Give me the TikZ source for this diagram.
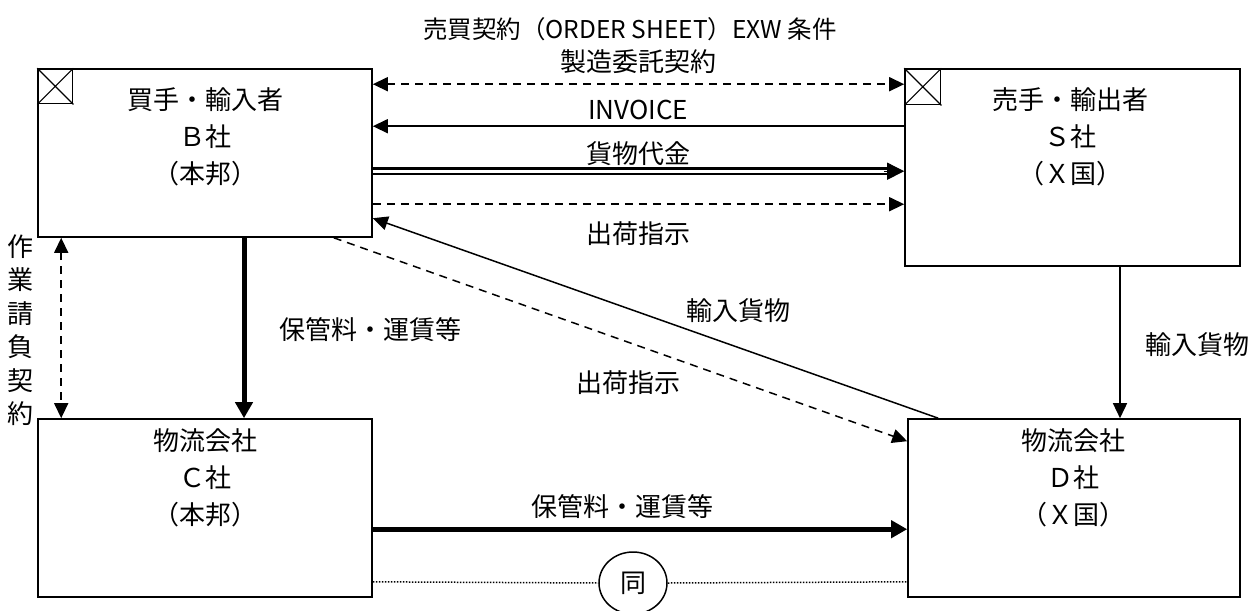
\documentclass[tikz,border=0pt]{standalone}
\usepackage{fontspec}
\setmainfont{Noto Sans CJK JP}
\usetikzlibrary{arrows.meta,shapes.geometric}
\tikzset{
  box/.style={draw, line width=1.6pt, rectangle, inner sep=0pt},
  lbl/.style={font=\fontsize{26}{37}\selectfont, inner sep=0pt, align=center},
  tip/.style={-{Triangle[length=15pt,width=14pt]}},
  bigtip/.style={-{Triangle[length=16pt,width=17pt]}},
  bitip/.style={{Triangle[length=15pt,width=14pt]}-{Triangle[length=15pt,width=14pt]}},
  thin/.style={line width=1.5pt},
  thick4/.style={line width=5pt},
  dsh/.style={dash pattern=on 8pt off 6pt},
  dots/.style={line width=1.5pt, dash pattern=on 1.5pt off 1.5pt},
}
\begin{document}
\begin{tikzpicture}[x=1pt,y=-1pt]
\useasboundingbox (0,0) rectangle (1252,610);
\fill[white] (0,0) rectangle (1252,610);
% boxes
\node[box, minimum width=334pt, minimum height=168pt] (B) at (205,153) {};
\node[box, minimum width=335pt, minimum height=197pt] (S) at (1072.5,167.5) {};
\node[box, minimum width=334pt, minimum height=178pt] (C) at (205,508) {};
\node[box, minimum width=332pt, minimum height=178pt] (D) at (1074,508) {};
% crossed squares
\node[draw, line width=1.2pt, minimum width=35pt, minimum height=35pt, anchor=north west, inner sep=0pt] (Bx) at (B.north west) {};
\draw[line width=1.2pt] (Bx.north west) -- (Bx.south east) (Bx.north east) -- (Bx.south west);
\node[draw, line width=1.2pt, minimum width=36pt, minimum height=36pt, anchor=north west, inner sep=0pt] (Sx) at (S.north west) {};
\draw[line width=1.2pt] (Sx.north west) -- (Sx.south east) (Sx.north east) -- (Sx.south west);
% box texts
\node[lbl] (Bt) at (205,137) {買手・輸入者\\Ｂ社\\（本邦）};
\node[lbl] (St) at (1070,137) {売手・輸出者\\Ｓ社\\（Ｘ国）};
\node[lbl] (Ct) at (205,478) {物流会社\\Ｃ社\\（本邦）};
\node[lbl] (Dt) at (1073,478) {物流会社\\Ｄ社\\（Ｘ国）};
% top arrows
\draw[thin, dsh, bitip] ([yshift=-16pt]B.north east) -- ([yshift=-16pt]S.north west);
\draw[thin, tip] ([yshift=-58pt]S.north west) -- ([yshift=-58pt]B.north east);
\draw[line width=2.2pt, double, double distance=3.2pt, shorten >=15pt] ([yshift=-103pt]B.north east) -- ([yshift=-103pt]S.north west);
\draw[line width=1pt, -{Triangle[length=17pt,width=17pt]}] ([yshift=-103pt,xshift=-20pt]S.north west) -- ([yshift=-103pt]S.north west);
\draw[thin, dsh, tip] ([yshift=-136pt]B.north east) -- ([yshift=-136pt]S.north west);
\node[lbl, font=\fontsize{24.5}{30}\selectfont] (L1) at (630,29) {売買契約（ORDER SHEET）EXW 条件};
\node[lbl] (L2) at (638,62) {製造委託契約};
\node[lbl] (L3) at (638,110) {INVOICE};
\node[lbl] (L4) at (638,154) {貨物代金};
\node[lbl] (L5) at (638,234) {出荷指示};
% verticals
\draw[thick4, bigtip] ([xshift=39pt]B.south) -- ([xshift=39pt]C.north);
\node[lbl] (L6) at (370,330) {保管料・運賃等};
\draw[thin, dsh, bitip] ([xshift=24pt]B.south west) -- ([xshift=24pt]C.north west);
\node[lbl, text width=28pt, font=\fontsize{26}{33.5}\selectfont] (L7) at (21,330) {作\\業\\請\\負\\契\\約};
\draw[thin, tip] ([xshift=47.5pt]S.south) -- ([xshift=46pt]D.north);
\node[lbl] (L8) at (1197,345) {輸入貨物};
% diagonals
\draw[thin, tip] ([xshift=31pt]D.north west) -- ([yshift=-150pt]B.north east);
\node[lbl] (L9) at (738,311) {輸入貨物};
\draw[thin, dsh, tip] ([xshift=-39pt]B.south east) -- ([yshift=-23pt]D.north west);
\node[lbl] (L10) at (628,383) {出荷指示};
% bottom
\draw[thick4, bigtip] ([yshift=-111pt]C.north east) -- ([yshift=-111pt]D.north west);
\node[lbl] (L11) at (622,507) {保管料・運賃等};
\node[draw, line width=1.5pt, ellipse, minimum width=68pt, minimum height=62pt, inner sep=0pt, font=\fontsize{26}{30}\selectfont] (E) at (633,583) {同};
\draw[dots] ([yshift=16pt]C.south east) -- (E.west);
\draw[dots] (E.east) -- ([yshift=16pt]D.south west);
\end{tikzpicture}
\end{document}
